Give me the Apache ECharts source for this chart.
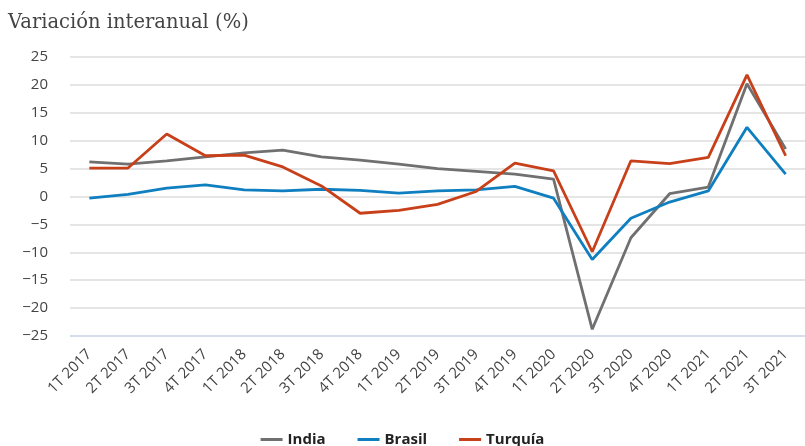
<!DOCTYPE html>
<html>
<head>
<meta charset="utf-8">
<script src="https://cdn.jsdelivr.net/npm/echarts@6/dist/echarts.min.js"></script>
<style>html,body{margin:0;padding:0;background:#fff}#c{width:805px;height:446px}</style>
</head>
<body>
<div id="c"></div>
<script>
const categories = ["1T 2017","2T 2017","3T 2017","4T 2017","1T 2018","2T 2018","3T 2018","4T 2018","1T 2019","2T 2019","3T 2019","4T 2019","1T 2020","2T 2020","3T 2020","4T 2020","1T 2021","2T 2021","3T 2021"];
const india   = [6.2, 5.8, 6.4, 7.1, 7.8, 8.3, 7.1, 6.5, 5.8, 5.0, 4.5, 4.0, 3.1, -23.8, -7.4, 0.5, 1.7, 20.2, 8.5];
const brasil  = [-0.3, 0.4, 1.5, 2.1, 1.2, 1.0, 1.3, 1.1, 0.6, 1.0, 1.2, 1.8, -0.3, -11.3, -3.9, -1.0, 1.0, 12.4, 4.0];
const turquia = [5.1, 5.1, 11.2, 7.3, 7.4, 5.3, 1.9, -3.0, -2.5, -1.4, 0.9, 6.0, 4.6, -9.9, 6.4, 5.9, 7.0, 21.8, 7.3];
const seriesNames = ["India", "Brasil", "Turquía"];
const yTicks = {min: -25, max: 25, interval: 5};
const titleText = "Variación interanual (%)";

const chart = echarts.init(document.getElementById('c'), null, {renderer: 'canvas'});
const colors = ['#707070', '#0f7fc0', '#c8401a'];
const mk = (name, data, i) => ({
  name, type: 'line', data, symbol: 'none', smooth: false,
  lineStyle: {width: 2.8, color: colors[i]}, itemStyle: {color: colors[i]}
});
chart.setOption({
  animation: false,
  title: {text: titleText, left: 3, top: 8,
    textStyle: {fontFamily: 'DejaVu Serif', fontWeight: 'normal', fontSize: 19.5, color: '#444'}},
  grid: {left: 70, top: 57, width: 741, height: 279, containLabel: false},
  legend: {bottom: -6, left: 'center', itemWidth: 22, itemHeight: 3, itemGap: 32, icon: 'rect',
    data: seriesNames,
    textStyle: {fontFamily: 'Open Sans', fontWeight: 'bold', fontSize: 15, color: '#222'}},
  xAxis: {type: 'category', data: categories, boundaryGap: true,
    axisLine: {show: false}, axisTick: {show: false},
    axisLabel: {rotate: 45, margin: 16, fontFamily: 'Open Sans', fontSize: 15, color: '#444', interval: 0}},
  yAxis: {type: 'value', min: yTicks.min, max: yTicks.max, interval: yTicks.interval,
    axisLine: {show: false}, axisTick: {show: false},
    axisLabel: {margin: 22, fontFamily: 'Open Sans', fontSize: 15, color: '#444',
      formatter: v => v < 0 ? '\u2212' + Math.abs(v) : String(v)},
    splitLine: {lineStyle: {color: ['#c8d2e4','#dcdcdc','#dcdcdc','#dcdcdc','#dcdcdc','#dcdcdc','#dcdcdc','#dcdcdc','#dcdcdc','#dcdcdc','#dcdcdc'], width: 1.5}}},
  series: [mk(seriesNames[0], india, 0), mk(seriesNames[1], brasil, 1), mk(seriesNames[2], turquia, 2)]
});
</script>
</body>
</html>
